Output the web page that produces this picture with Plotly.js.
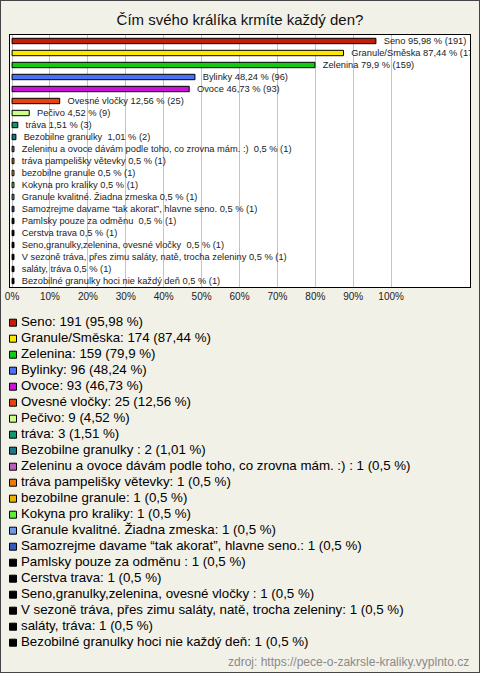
<!DOCTYPE html>
<html>
<head>
<meta charset="utf-8">
<script src="https://cdn.plot.ly/plotly-3.0.1.min.js"></script>
<style>
html,body{margin:0;padding:0;background:#f2f1e8;}
#wrap{position:relative;width:480px;height:673px;}
#chart{position:absolute;left:0;top:0;width:480px;height:673px;}
#frame{position:absolute;left:0;top:0;width:480px;height:673px;box-sizing:border-box;border:1px solid #444;pointer-events:none;}
</style>
</head>
<body>
<div id="wrap"><div id="chart"></div><div id="frame"></div></div>
<script>
const categories = [
  "Seno",
  "Granule/Směska",
  "Zelenina",
  "Bylinky",
  "Ovoce",
  "Ovesné vločky",
  "Pečivo",
  "tráva",
  "Bezobilne granulky ",
  "Zeleninu a ovoce dávám podle toho, co zrovna mám. :) ",
  "tráva pampelišky větevky",
  "bezobilne granule",
  "Kokyna pro kraliky",
  "Granule kvalitné. Žiadna zmeska",
  "Samozrejme davame “tak akorat”, hlavne seno.",
  "Pamlsky pouze za odměnu ",
  "Cerstva trava",
  "Seno,granulky,zelenina, ovesné vločky ",
  "V sezoně tráva, přes zimu saláty, natě, trocha zeleniny",
  "saláty, tráva",
  "Bezobilné granulky hoci nie každý deň"
];
const counts = [191, 174, 159, 96, 93, 25, 9, 3, 2, 1, 1, 1, 1, 1, 1, 1, 1, 1, 1, 1, 1];
const percents = [95.98, 87.44, 79.9, 48.24, 46.73, 12.56, 4.52, 1.51, 1.01, 0.5, 0.5, 0.5, 0.5, 0.5, 0.5, 0.5, 0.5, 0.5, 0.5, 0.5, 0.5];
const colors = ["#c41e0a", "#ffe600", "#14c814", "#4a72f5", "#c814d8", "#e8420e", "#ccff88", "#12966a", "#167888",
  "#bb5cbf", "#ee7a06", "#e8b400", "#5aee38", "#6a9ae8", "#3458bc",
  "#000000", "#000000", "#000000", "#000000", "#000000", "#000000"];
const tickValues = [0, 10, 20, 30, 40, 50, 60, 70, 80, 90, 100];
const tickLabels = ["0%", "10%", "20%", "30%", "40%", "50%", "60%", "70%", "80%", "90%", "100%"];
const titleText = "Čím svého králíka krmíte každý den?";
const sourceText = "zdroj: https://pece-o-zakrsle-kraliky.vyplnto.cz";

const fmt = v => String(v).replace(".", ",");
const NB = "\u00a0";
const barTexts = categories.map((c, i) => NB + NB + NB + c + " " + fmt(percents[i]) + " % (" + counts[i] + ")");
const legendTexts = categories.map((c, i) => c + ": " + counts[i] + " (" + fmt(percents[i]) + " %)");

// plot area pixel geometry
const L = 10, R = 470, T = 35, B = 287;
const W = R - L, H = B - T;
const px2x = px => (px - L) / W;
const py2y = py => (B - py) / H;

const annotations = [];
const shapes = [];
legendTexts.forEach((t, i) => {
  const cy = 321.7 + 16 * i;
  annotations.push({
    xref: "paper", yref: "paper", x: px2x(19), y: py2y(cy), xanchor: "left", yanchor: "middle",
    text: t, showarrow: false, font: {family: "Liberation Sans, Arial, sans-serif", size: 13.3, color: "#000"}
  });
  shapes.push({
    type: "rect", xref: "paper", yref: "paper",
    x0: px2x(9.5), x1: px2x(16.5), y0: py2y(cy - 2.5), y1: py2y(cy + 4.5),
    fillcolor: colors[i], line: {color: "#000", width: 1}
  });
});
annotations.push({
  xref: "paper", yref: "paper", x: px2x(471), y: py2y(661.5), xanchor: "right", yanchor: "middle",
  text: sourceText, showarrow: false, font: {family: "Liberation Sans, Arial, sans-serif", size: 12, color: "#8a8a8a"}
});

const trace = {
  type: "bar",
  orientation: "h",
  y: categories,
  x: percents,
  text: barTexts,
  textposition: "outside",
  textangle: 0,
  constraintext: "none",
  cliponaxis: true,
  textfont: {family: "Liberation Sans, Arial, sans-serif", size: 9.3, color: "#222"},
  marker: {color: colors, line: {color: "#000", width: 1}},
  width: 0.45,
  hoverinfo: "none",
  showlegend: false
};

const layout = {
  width: 480, height: 673,
  paper_bgcolor: "#f2f1e8",
  plot_bgcolor: "#ffffff",
  margin: {l: L, r: 480 - R, t: T, b: 673 - B, pad: 0},
  title: {
    text: titleText, xref: "container", yref: "container", x: 0.5, y: 1 - 20 / 673,
    xanchor: "center", yanchor: "middle",
    font: {family: "Liberation Sans, Arial, sans-serif", size: 15, color: "#111"}
  },
  xaxis: {
    range: [-0.55, 120.8], tickvals: tickValues, ticktext: tickLabels,
    showgrid: true, gridcolor: "#c4c4c4", gridwidth: 1, zeroline: false,
    showline: true, mirror: true, linecolor: "#000", linewidth: 1,
    ticks: "", tickfont: {family: "Liberation Sans, Arial, sans-serif", size: 10, color: "#222"},
    fixedrange: true
  },
  yaxis: {
    type: "category", autorange: "reversed", showticklabels: false, showgrid: false, zeroline: false,
    showline: true, mirror: true, linecolor: "#000", linewidth: 1, ticks: "", fixedrange: true
  },
  annotations: annotations,
  shapes: shapes,
  showlegend: false
};

Plotly.newPlot("chart", [trace], layout, {displayModeBar: false, staticPlot: true});
</script>
</body>
</html>
